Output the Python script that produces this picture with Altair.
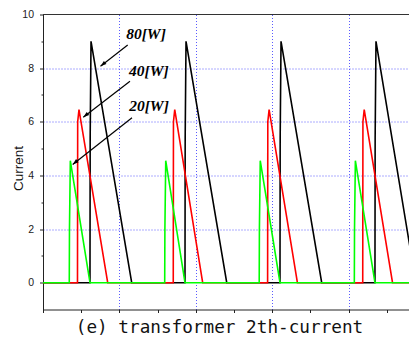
import altair as alt
import pandas as pd

# x: time [us], y: current [A]
black_t = [0.0, 12.30, 12.35, 12.57, 23.22, 37.17, 37.22, 37.44, 48.10,
           62.04, 62.09, 62.31, 72.96, 86.90, 86.95, 87.17, 97.60, 97.9]
black_i = [0, 0, 5.4, 9.0, 0, 0, 5.4, 9.0, 0, 0, 5.4, 9.0, 0, 0, 5.4, 9.0, 0, 0]
red_t = [0.0, 9.03, 9.08, 9.42, 16.94, 34.10, 34.15, 34.49, 41.80,
         58.80, 58.85, 59.19, 66.60, 83.70, 83.75, 84.09, 91.50, 97.9]
red_i = [0, 0, 6.0, 6.45, 0, 0, 6.0, 6.45, 0, 0, 6.0, 6.45, 0, 0, 6.0, 6.45, 0, 0]
green_t = [0.0, 6.88, 6.93, 7.15, 12.30, 31.86, 31.91, 32.13, 37.17,
           56.60, 56.65, 56.87, 62.04, 81.50, 81.55, 81.77, 86.90, 97.9]
green_i = [0, 0, 2.0, 4.55, 0, 0, 2.0, 4.55, 0, 0, 2.0, 4.55, 0, 0, 2.0, 4.55, 0, 0]

ann_text = ["80[W]", "40[W]", "20[W]"]
ann_x = [26.96, 27.70, 27.75]
ann_y = [9.29, 7.88, 6.60]
arrow_x0 = [22.17, 22.77, 23.30]
arrow_y0 = [8.86, 7.51, 6.15]
arrow_x1 = [15.05, 10.55, 7.77]
arrow_y1 = [8.07, 6.17, 4.41]

x_major = [0, 10, 20, 30, 40, 50, 60, 70, 80, 90]
x_grid = [20, 40, 60, 80]
y_major = [0, 2, 4, 6, 8, 10]
y_grid = [2, 4, 6, 8]
y_minor = [1, 3, 5, 7, 9]

W, H = 366, 295
XD = [0, W / 3.82]
YD = [-1, 10]
GRID = "#5a5aff"


def xs():
    return alt.Scale(domain=XD, nice=False, zero=False)


def ys():
    return alt.Scale(domain=YD, nice=False, zero=False)


main_x = alt.Axis(values=x_major, labels=False, ticks=True, tickSize=3,
                  tickColor="#222", domainColor="#222", grid=False,
                  title="(e) transformer 2th-current", titleFont="DejaVu Sans Mono",
                  titleFontSize=17.7, titleFontWeight="normal", titleColor="#111",
                  titleX=176, titleY=23.4, titleAlign="center",
                  titleBaseline="alphabetic", orient="bottom")
main_y = alt.Axis(values=y_major, tickSize=3.5, tickColor="#222", domainColor="#222",
                  labelFont="Liberation Sans", labelFontSize=10.5, labelColor="#222",
                  labelPadding=6, grid=False, title="Current",
                  titleFont="Liberation Sans", titleFontSize=13.5,
                  titleFontWeight="normal", titleColor="#111",
                  titleX=-25, titleY=153.5, titleAlign="center",
                  titleBaseline="middle", titleAngle=270, orient="left")
grid_x = alt.Axis(values=x_grid, grid=True, gridColor=GRID, gridDash=[1, 2],
                  gridWidth=1, ticks=False, labels=False, domain=False,
                  title=None, orient="bottom")
grid_y = alt.Axis(values=y_grid, grid=True, gridColor=GRID, gridDash=[1, 2],
                  gridWidth=1, ticks=False, labels=False, domain=False,
                  title=None, orient="left")
minor_y = alt.Axis(values=y_minor, tickSize=2, tickColor="#222", labels=False,
                   domain=False, grid=False, title=None, orient="left")


def line_layer(t, i, color, xaxis, yaxis):
    df = pd.DataFrame({"t": t, "i": i})
    return alt.Chart(df).mark_line(color=color, strokeWidth=1.6, clip=True).encode(
        x=alt.X("t:Q", scale=xs(), axis=xaxis),
        y=alt.Y("i:Q", scale=ys(), axis=yaxis),
    )


black = line_layer(black_t, black_i, "#000000", main_x, main_y)
red = line_layer(red_t, red_i, "#ff0000", grid_x, grid_y)
green = line_layer(green_t, green_i, "#00ff00", None, minor_y)

top_border = alt.Chart(pd.DataFrame({"a": [0]})).mark_rule(
    color="#333", strokeWidth=1).encode(
    x=alt.value(0), x2=alt.value(W), y=alt.value(0))

ann_df = pd.DataFrame({"text": ann_text, "tx": ann_x, "ty": ann_y,
                       "x0": arrow_x0, "y0": arrow_y0,
                       "x1": arrow_x1, "y1": arrow_y1})

arrows = alt.Chart(ann_df).mark_rule(color="black", strokeWidth=1.2).encode(
    x=alt.X("x0:Q", scale=xs(), axis=None),
    y=alt.Y("y0:Q", scale=ys(), axis=None),
    x2="x1:Q", y2="y1:Q")

heads = alt.Chart(ann_df).mark_point(
    shape="M0,0L-0.4,1.2L0.4,1.2Z", filled=True, color="black",
    opacity=1, size=100, angle=231).encode(
    x=alt.X("x1:Q", scale=xs(), axis=None),
    y=alt.Y("y1:Q", scale=ys(), axis=None))

texts = alt.Chart(ann_df).mark_text(
    font="Liberation Serif", fontStyle="italic", fontWeight="bold",
    fontSize=15.5, align="center", baseline="middle", color="black").encode(
    x=alt.X("tx:Q", scale=xs(), axis=None),
    y=alt.Y("ty:Q", scale=ys(), axis=None),
    text="text:N")

chart = alt.layer(black, red, green, top_border, arrows, heads, texts).resolve_scale(
    x="independent", y="independent").properties(
    width=W, height=H,
    autosize=alt.AutoSizeParams(type="none"),
    padding={"left": 35, "top": 6.5, "right": 0, "bottom": 26.5},
).configure_view(strokeWidth=0)

chart.save("out.html", embed_options={"renderer": "svg", "actions": False})
